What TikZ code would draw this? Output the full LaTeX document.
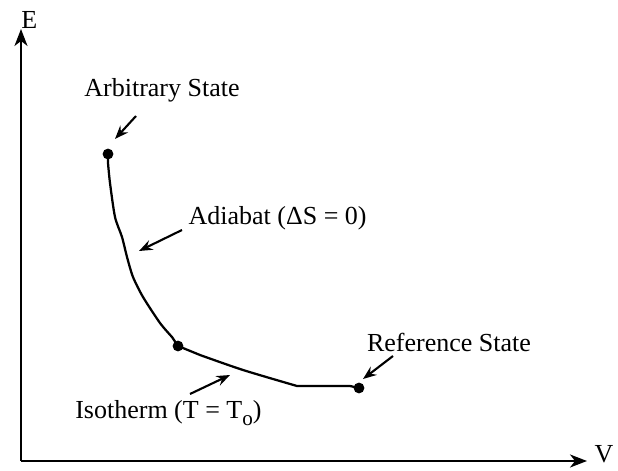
\documentclass[tikz,border=0pt]{standalone}
\usepackage{fontspec}
\setmainfont{Liberation Serif}
\usetikzlibrary{arrows.meta}
\begin{document}
\begin{tikzpicture}[
    axis/.style={line width=2.1pt, line join=miter, -{Stealth[length=0.42cm, width=0.32cm, inset=0.12cm]}},
    curve/.style={line width=1.6pt, line join=round},
    pointer/.style={line width=1.5pt, -{Stealth[length=0.34cm, width=0.26cm, inset=0.12cm]}},
    state/.style={circle, fill, inner sep=0pt, minimum size=0.27cm},
    lbl/.style={font=\fontsize{18.5}{22}\selectfont, inner sep=0pt}
]
    \useasboundingbox (0,0) rectangle (15.45,11.75);

    % Axes
    \coordinate (origin) at (0.525,0.225);
    \coordinate (etop) at (0.525,11.025);
    \coordinate (vend) at (14.675,0.225);
    \draw[axis] (origin) -- (etop);
    \draw[axis] (origin) -- (vend);
    \node[lbl, anchor=base] (elabel) at (0.73,11.03) {E};
    \node[lbl, anchor=base] (vlabel) at (15.1,0.2) {V};

    % States
    \node[state] (arb) at (2.7,7.9) {};
    \node[state] (mid) at (4.45,3.1) {};
    \node[state] (ref) at (8.975,2.05) {};

    % Adiabat and isotherm
    \draw[curve] (arb.center) -- plot[smooth, tension=0.45] coordinates {(2.7,7.675) (2.75,7.175) (2.875,6.325) (3.05,5.825) (3.175,5.325) (3.325,4.825) (3.575,4.325) (4.0,3.675) (4.3,3.325)} -- (mid.center);
    \draw[curve] (mid.center) -- plot[smooth, tension=0.45] coordinates {(5.0,2.875) (6.075,2.5) (7.425,2.1)} -- (8.75,2.1) -- (ref.center);

    % Labels
    \node[lbl, anchor=base] (arbtext) at (4.05,9.325) {Arbitrary State};
    \node[lbl, anchor=base] (adiatext) at (6.94,6.125) {Adiabat (ΔS = 0)};
    \node[lbl, anchor=base] (reftext) at (11.225,2.95) {Reference State};
    \node[lbl, anchor=base west] (isotext) at (1.875,1.3) {Isotherm (T = T\raisebox{-0.3em}{\fontsize{15}{18}\selectfont o})};

    % Pointers
    \coordinate (arbtail) at (3.4,8.85);
    \coordinate (arbtip) at (2.875,8.275);
    \coordinate (adiatail) at (4.55,6.0);
    \coordinate (adiatip) at (3.475,5.475);
    \coordinate (isotail) at (4.75,1.9);
    \coordinate (isotip) at (5.75,2.375);
    \coordinate (reftail) at (9.825,2.85);
    \coordinate (reftip) at (9.075,2.275);
    \draw[pointer] (arbtail) -- (arbtip);
    \draw[pointer] (adiatail) -- (adiatip);
    \draw[pointer] (isotail) -- (isotip);
    \draw[pointer] (reftail) -- (reftip);
\end{tikzpicture}
\end{document}
